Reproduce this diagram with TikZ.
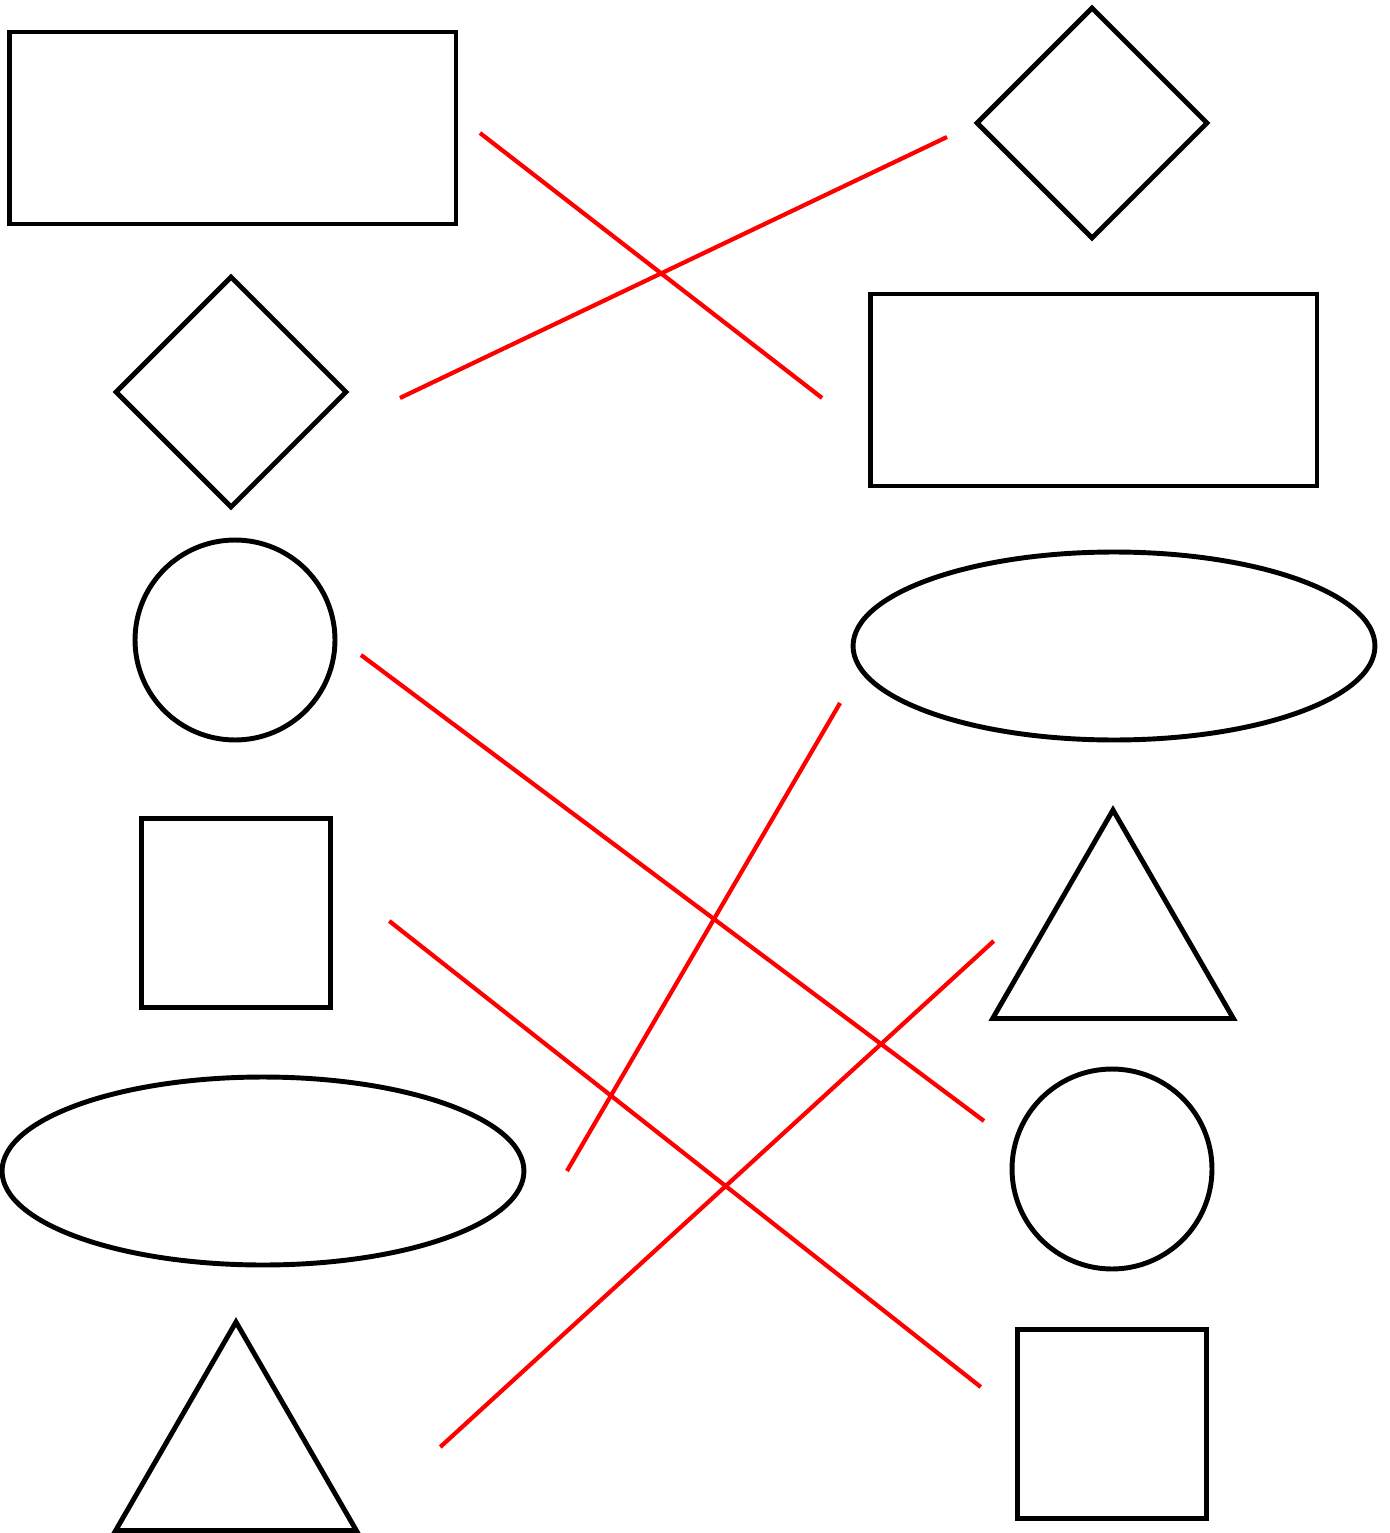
\documentclass[tikz,border=0pt]{standalone}
\usepackage{tikz}
\usetikzlibrary{shapes.geometric, calc}

\begin{document}
\begin{tikzpicture}[
                x=0.02cm, y=-0.02cm,
                shapeline/.style={draw=black, line width=2.8pt, inner sep=0pt, outer sep=0pt},
                boxshape/.style={shapeline, rectangle, minimum width=8.94cm, minimum height=3.84cm},
                diamondshape/.style={shapeline, diamond, minimum size=4.6cm},
                circleshape/.style={shapeline, circle, minimum size=4cm},
                squareshape/.style={shapeline, rectangle, minimum size=3.77cm},
                ellipseshape/.style={shapeline, ellipse, minimum width=10.44cm, minimum height=3.76cm},
                triangleshape/.style={shapeline, regular polygon, regular polygon sides=3, minimum size=5.56cm},
                match/.style={draw=red, line width=2.4pt}
            ]

            \path[use as bounding box] (0,0) rectangle (1389,1533);

            % Formen links
            \node[boxshape] (boxL) at (232.5,128) {};
            \node[diamondshape] (diaL) at (231,392) {};
            \node[circleshape] (circL) at (235,640) {};
            \node[squareshape] (sqL) at (236,913) {};
            \node[ellipseshape] (ellL) at (263,1171) {};
            \node[triangleshape] (triL) at (236,1461) {};

            % Formen rechts
            \node[diamondshape] (diaR) at (1092,123) {};
            \node[boxshape] (boxR) at (1093.5,390) {};
            \node[ellipseshape] (ellR) at (1114,646) {};
            \node[triangleshape] (triR) at (1113,949) {};
            \node[circleshape] (circR) at (1112,1169) {};
            \node[squareshape] (sqR) at (1112,1424) {};

            % Zuordnungen
            \draw[match] ([shift={(24,5)}]boxL.east) -- ([shift={(-48,8)}]boxR.west);
            \draw[match] ([shift={(54,6)}]diaL.east) -- ([shift={(-30,14)}]diaR.west);
            \draw[match] ([shift={(26,15)}]circL.east) -- ([shift={(-28,-48)}]circR.west);
            \draw[match] ([shift={(59,8)}]sqL.east) -- ([shift={(-37,-37)}]sqR.west);
            \draw[match] ([shift={(43,0)}]ellL.east) -- ([shift={(-13,57)}]ellR.west);
            \draw[match] ([shift={(124,-14)}]triL.east) -- ([shift={(-39,-8)}]triR.west);

        \end{tikzpicture}
\end{document}
